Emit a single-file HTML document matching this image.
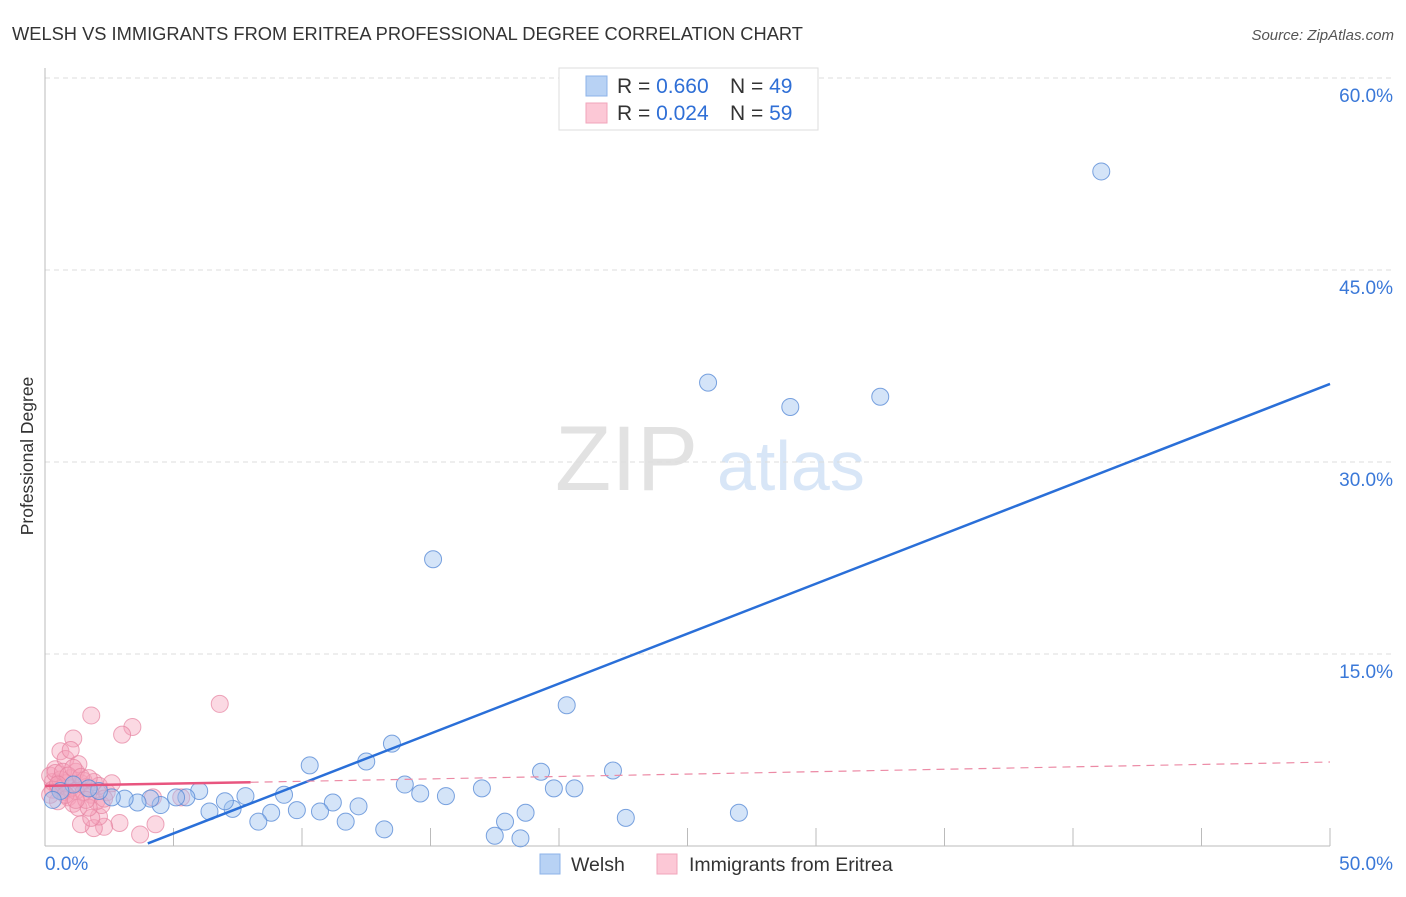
<!DOCTYPE html>
<html><head><meta charset="utf-8"><style>
body{margin:0;background:#fff;font-family:"Liberation Sans",sans-serif;}
svg text{font-family:"Liberation Sans",sans-serif;}
</style></head><body>
<svg id="chart" width="1406" height="892">
<text x="12" y="40" font-size="18.3" fill="#333">WELSH VS IMMIGRANTS FROM ERITREA PROFESSIONAL DEGREE CORRELATION CHART</text>
<text x="1394" y="40" font-size="15" fill="#555" font-style="italic" text-anchor="end">Source: ZipAtlas.com</text>
<text x="33" y="456" font-size="17.5" fill="#333" transform="rotate(-90 33 456)" text-anchor="middle">Professional Degree</text>
<g>
<text x="555" y="490" font-size="92" fill="#e2e2e2" font-family="Liberation Serif,serif">ZIP</text>
<text x="717" y="490" font-size="70" fill="#d8e6f7">atlas</text>
</g>
<g id="grid"></g><g id="pts"></g><g id="lines"></g>
<g>
<rect x="559" y="68" width="259" height="62" fill="#fff" stroke="#ddd"/>
<rect x="586" y="76" width="21" height="20" fill="#b8d2f4" stroke="#8db3e8"/>
<rect x="586" y="103" width="21" height="20" fill="#fcc8d6" stroke="#f1a5bb"/>
<text x="617" y="93" font-size="21" fill="#333">R = <tspan fill="#2f6fd6">0.660</tspan><tspan x="730">N = </tspan><tspan fill="#2f6fd6">49</tspan></text>
<text x="617" y="120" font-size="21" fill="#333">R = <tspan fill="#2f6fd6">0.024</tspan><tspan x="730">N = </tspan><tspan fill="#2f6fd6">59</tspan></text>
</g>
<g>
<rect x="540" y="854" width="20" height="20" fill="#b8d2f4" stroke="#8db3e8"/>
<text x="571" y="871" font-size="19.5" fill="#333">Welsh</text>
<rect x="657" y="854" width="20" height="20" fill="#fcc8d6" stroke="#f1a5bb"/>
<text x="689" y="871" font-size="19.5" fill="#333">Immigrants from Eritrea</text>
</g>
</svg>
<script>
const yTicks=[15,30,45,60];
const yTickLabels=["15.0%","30.0%","45.0%","60.0%"];
const xTickLabels=["0.0%","50.0%"];
const welshX=[41.1,25.8,29.0,32.5,15.1,20.3,13.5,10.3,12.5,22.1,19.3,14.0,14.6,15.6,17.0,19.8,20.6,18.7,17.9,17.5,18.5,13.2,11.7,12.2,11.2,10.7,9.8,8.8,8.3,9.3,7.8,7.3,7.0,6.4,6.0,5.5,5.1,4.5,4.1,3.6,3.1,2.6,2.1,1.7,1.1,0.6,0.3,22.6,27.0];
const welshY=[52.7,36.2,34.3,35.1,22.4,11.0,8.0,6.3,6.6,5.9,5.8,4.8,4.1,3.9,4.5,4.5,4.5,2.6,1.9,0.8,0.6,1.3,1.9,3.1,3.4,2.7,2.8,2.6,1.9,4.0,3.9,2.9,3.5,2.7,4.3,3.8,3.8,3.2,3.7,3.4,3.7,3.8,4.3,4.5,4.8,4.3,3.6,2.2,2.6];
const eriX=[1.8,6.8,3.4,3.0,1.1,4.3,3.7,2.9,2.3,1.9,1.4,2.1,1.8,4.2,5.3,0.3,0.5,0.2,0.4,0.6,0.8,1.0,1.2,1.4,0.7,0.9,1.1,1.3,0.5,0.3,1.5,1.6,1.8,2.0,2.2,1.7,0.6,0.8,1.0,1.2,0.4,1.9,2.1,2.4,1.3,1.0,0.2,0.7,1.5,0.9,1.1,1.6,2.3,0.5,1.4,0.8,1.2,1.7,2.6];
const eriY=[10.2,11.1,9.3,8.7,8.4,1.7,0.9,1.8,1.5,1.4,1.7,2.3,2.2,3.8,3.8,5.0,4.6,5.5,6.0,7.4,6.8,5.3,5.8,4.9,4.2,3.8,3.3,3.0,3.5,4.4,5.1,4.6,4.0,3.5,3.2,3.0,5.2,4.9,4.5,4.3,5.7,5.0,4.7,4.2,6.4,7.5,4.0,5.8,4.2,5.5,6.1,3.6,3.7,4.8,5.4,4.0,3.6,5.3,4.9];
const welshLine=[[4.0,0.2],[50,36.1]];
const eriLine=[[0,4.7],[8,4.98],[50,6.56]];
const X=v=>45+v*25.7, Y=v=>846-v*12.8;
const NS="http://www.w3.org/2000/svg";
function mk(tag,attrs,parent){const e=document.createElementNS(NS,tag);for(const k in attrs)e.setAttribute(k,attrs[k]);document.getElementById(parent).appendChild(e);return e;}
yTicks.forEach((t,i)=>{
 const l=mk('line',{x1:45,x2:1394,y1:Y(t),y2:Y(t),stroke:'#ddd','stroke-dasharray':'5,4'},'grid');
 
 
 const tx=mk('text',{x:1393,y:Y(t)+24,'font-size':19,fill:'#3a78d8','text-anchor':'end'},'grid');tx.textContent=yTickLabels[i];
 
 
});
for(let i=1;i<=10;i++){const v=i*5;const l=mk('line',{x1:X(v),x2:X(v),y1:828,y2:846,stroke:'#bbb'},'grid');
 
 }
const ax=mk('line',{x1:45,x2:1330,y1:846,y2:846,stroke:'#bbb'},'grid');


const ay=mk('line',{x1:45,x2:45,y1:68,y2:846,stroke:'#bbb'},'grid');


[[0,'start',45],[50,'end',1393]].forEach((d,i)=>{const t=mk('text',{x:d[2],y:870,'font-size':19,fill:'#3a78d8','text-anchor':d[1]},'grid');t.textContent=xTickLabels[i];
 
 });
eriX.forEach((x,i)=>{const c=mk('circle',{cx:X(x),cy:Y(eriY[i]),r:8.5,fill:'rgba(244,160,185,0.4)',stroke:'rgba(230,130,160,0.7)'},'pts');
 
 });
welshX.forEach((x,i)=>{const c=mk('circle',{cx:X(x),cy:Y(welshY[i]),r:8.5,fill:'rgba(160,195,240,0.45)',stroke:'rgba(90,140,215,0.8)'},'pts');
 
 });
const bl=mk('line',{x1:X(welshLine[0][0]),y1:Y(welshLine[0][1]),x2:X(welshLine[1][0]),y2:Y(welshLine[1][1]),stroke:'#2a6fd8','stroke-width':2.5},'lines');


const pl=mk('line',{x1:X(eriLine[0][0]),y1:Y(eriLine[0][1]),x2:X(eriLine[1][0]),y2:Y(eriLine[1][1]),stroke:'#e8557f','stroke-width':2.5},'lines');


const pd=mk('line',{x1:X(eriLine[1][0]),y1:Y(eriLine[1][1]),x2:X(eriLine[2][0]),y2:Y(eriLine[2][1]),stroke:'#ec8aa5','stroke-width':1.2,'stroke-dasharray':'8,6'},'lines');


</script>
</body></html>
